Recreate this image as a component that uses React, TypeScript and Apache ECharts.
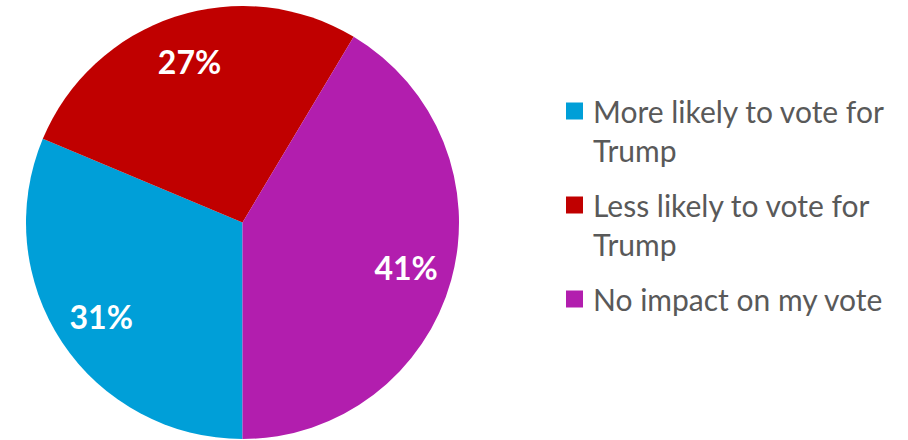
import React, { useEffect, useRef } from "react";
import * as echarts from "echarts";

const categories = [
  "More likely to vote for Trump",
  "Less likely to vote for Trump",
  "No impact on my vote",
];
const legendLabels = [
  "More likely to vote for\nTrump",
  "Less likely to vote for\nTrump",
  "No impact on my vote",
];
const values = [31, 27, 41];
const colors = ["#009FD8", "#C00000", "#B21EAE"];

export default function App() {
  const ref = useRef<HTMLDivElement>(null);
  useEffect(() => {
    document.body.style.margin = "0";
    const chart = echarts.init(ref.current!, null, { renderer: "svg" });
    const cx = 242.5;
    const cy = 222.5;
    const R = 216.5;
    const data = categories.map((name, i) => ({
      name,
      value: values[i],
      itemStyle: { color: colors[i] },
    }));

    const lineH = 39;
    const legendFont = 30;
    const graphics: any[] = [];
    let yLine = 111;
    legendLabels.forEach((lbl, i) => {
      const nLines = lbl.split("\n").length;
      graphics.push({
        type: "rect",
        shape: { x: 566, y: yLine - 8.5, width: 17, height: 17 },
        style: { fill: colors[i] },
      });
      graphics.push({
        type: "text",
        x: 593,
        y: yLine - lineH / 2,
        style: {
          text: lbl,
          fill: "#595959",
          font: `${legendFont}px Lato`,
          fontSize: legendFont,
          fontFamily: "Lato",
          lineHeight: lineH,
          verticalAlign: "top",
          align: "left",
        },
      });
      yLine += nLines * lineH + 16;
    });

    chart.setOption({
      animation: false,
      backgroundColor: "#ffffff",
      graphic: graphics,
      series: [
        {
          type: "pie",
          center: [cx, cy],
          radius: [0, R],
          startAngle: 270,
          clockwise: true,
          silent: true,
          label: { show: false },
          labelLine: { show: false },
          data,
        },
        {
          type: "pie",
          center: [cx, cy],
          radius: [R * 0.54, R],
          startAngle: 270,
          clockwise: true,
          silent: true,
          itemStyle: { color: "rgba(0,0,0,0)" },
          label: {
            show: true,
            position: "inside",
            formatter: "{c}%",
            color: "#ffffff",
            fontFamily: "Lato",
            fontWeight: "bold",
            fontSize: 32,
          },
          labelLine: { show: false },
          data: categories.map((name, i) => ({ name, value: values[i] })),
        },
      ],
    });
    return () => chart.dispose();
  }, []);
  return <div ref={ref} style={{ width: 908, height: 440 }} />;
}
